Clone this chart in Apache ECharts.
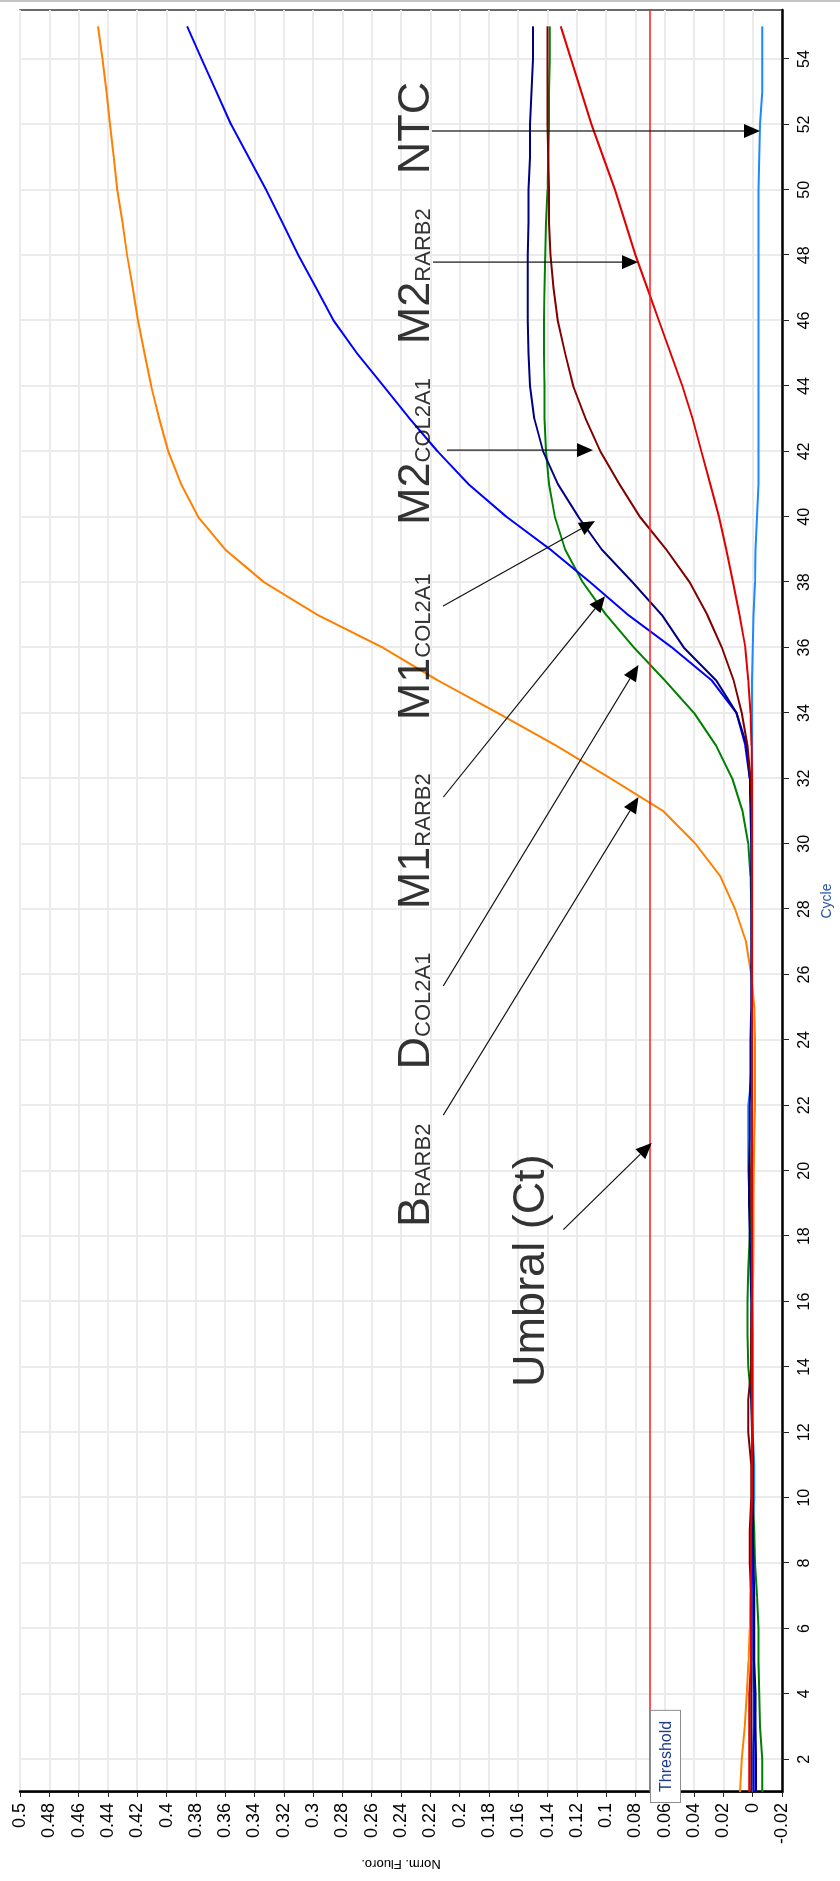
<!DOCTYPE html>
<html>
<head>
<meta charset="utf-8">
<title>Norm. Fluoro. / Cycle</title>
<script src="https://cdn.jsdelivr.net/npm/echarts@6/dist/echarts.min.js"></script>
<style>
html, body { margin: 0; padding: 0; background: #fff; overflow: hidden; }
#page { position: relative; width: 840px; height: 1881px; overflow: hidden; }
/* chart is drawn landscape and turned a quarter turn to the left */
#main {
    position: absolute; left: 0; top: 0;
    width: 1881px; height: 840px;
    transform-origin: 0 0;
    transform: translateY(1881px) rotate(-90deg);
}
#edge { position: absolute; left: 0; top: 0; width: 840px; height: 2px; background: #c4c4c4; }
</style>
</head>
<body>
<div id="page"><div id="main"></div><div id="edge"></div></div>
<script>
var cycles = [1, 2, 3, 4, 5, 6, 7, 8, 9, 10, 11, 12, 13, 14, 15, 16, 17, 18, 19, 20,
    21, 22, 23, 24, 25, 26, 27, 28, 29, 30, 31, 32, 33, 34, 35, 36, 37, 38, 39, 40,
    41, 42, 43, 44, 45, 46, 47, 48, 49, 50, 51, 52, 53, 54, 55];
var cycleTicks = [2, 4, 6, 8, 10, 12, 14, 16, 18, 20, 22, 24, 26, 28, 30, 32, 34, 36, 38, 40,
    42, 44, 46, 48, 50, 52, 54];

var bRarb2 = [0.0087, 0.0074, 0.0055, 0.0041, 0.0028, 0.0020, 0.0016, 0.0010, 0.0007, 0.0003,
    0.0000, 0.0000, 0.0000, 0.0000, 0.0000, 0.0000, -0.0003, -0.0005, -0.0005, -0.0008,
    -0.0010, -0.0015, -0.0015, -0.0015, -0.0010, 0.0010, 0.0045, 0.0120, 0.0220, 0.0390,
    0.0610, 0.0970, 0.1340, 0.1740, 0.2150, 0.2525, 0.2970, 0.3335, 0.3600, 0.3785,
    0.3900, 0.3988, 0.4050, 0.4105, 0.4150, 0.4195, 0.4230, 0.4269, 0.4300, 0.4336,
    0.4360, 0.4386, 0.4410, 0.4437, 0.4467];
var dCol2a1 = [-0.0065, -0.0065, -0.0050, -0.0045, -0.0040, -0.0040, -0.0030, -0.0015, -0.0010, 0.0000,
    0.0000, 0.0000, 0.0010, 0.0030, 0.0035, 0.0035, 0.0030, 0.0020, 0.0010, 0.0010,
    0.0005, 0.0005, 0.0005, 0.0005, 0.0005, 0.0005, 0.0005, 0.0008, 0.0015, 0.0030,
    0.0070, 0.0140, 0.0250, 0.0400, 0.0600, 0.0810, 0.1000, 0.1160, 0.1280, 0.1350,
    0.1390, 0.1410, 0.1420, 0.1420, 0.1425, 0.1425, 0.1420, 0.1415, 0.1410, 0.1400,
    0.1395, 0.1390, 0.1390, 0.1385, 0.1385];
var m1Rarb2 = [-0.0008, -0.0005, -0.0010, -0.0010, -0.0008, -0.0005, -0.0005, 0.0000, 0.0000, 0.0000,
    0.0000, 0.0005, 0.0005, 0.0005, 0.0005, 0.0005, 0.0005, 0.0005, 0.0005, 0.0005,
    0.0005, 0.0005, 0.0005, 0.0005, 0.0005, 0.0005, 0.0005, 0.0005, 0.0005, 0.0008,
    0.0010, 0.0020, 0.0050, 0.0110, 0.0280, 0.0550, 0.0850, 0.1110, 0.1380, 0.1680,
    0.1940, 0.2150, 0.2340, 0.2520, 0.2700, 0.2860, 0.2980, 0.3100, 0.3210, 0.3320,
    0.3440, 0.3560, 0.3660, 0.3760, 0.3860];
var m1Col2a1 = [-0.0023, -0.0023, -0.0020, -0.0020, -0.0010, -0.0010, -0.0010, -0.0005, 0.0000, 0.0000,
    0.0000, 0.0005, 0.0010, 0.0010, 0.0010, 0.0010, 0.0015, 0.0020, 0.0025, 0.0025,
    0.0020, 0.0020, 0.0015, 0.0015, 0.0010, 0.0010, 0.0010, 0.0010, 0.0010, 0.0010,
    0.0015, 0.0020, 0.0040, 0.0110, 0.0250, 0.0470, 0.0620, 0.0820, 0.1030, 0.1190,
    0.1330, 0.1430, 0.1490, 0.1520, 0.1530, 0.1535, 0.1535, 0.1535, 0.1530, 0.1530,
    0.1520, 0.1520, 0.1510, 0.1500, 0.1500];
var m2Col2a1 = [0.0010, 0.0010, 0.0010, 0.0010, 0.0010, 0.0010, 0.0010, 0.0020, 0.0020, 0.0010,
    0.0010, 0.0030, 0.0030, 0.0010, 0.0010, 0.0005, 0.0005, 0.0005, 0.0010, 0.0010,
    0.0005, 0.0005, 0.0005, 0.0005, 0.0005, 0.0005, 0.0005, 0.0005, 0.0005, 0.0005,
    0.0005, 0.0015, 0.0035, 0.0075, 0.0130, 0.0210, 0.0310, 0.0430, 0.0590, 0.0770,
    0.0910, 0.1040, 0.1140, 0.1225, 0.1280, 0.1330, 0.1360, 0.1380, 0.1390, 0.1390,
    0.1395, 0.1400, 0.1400, 0.1400, 0.1400];
var m2Rarb2 = [0.0023, 0.0023, 0.0023, 0.0023, 0.0011, 0.0011, 0.0011, 0.0011, 0.0011, 0.0005,
    0.0005, 0.0005, 0.0005, 0.0005, 0.0005, 0.0005, 0.0005, 0.0005, 0.0005, 0.0005,
    0.0005, 0.0005, 0.0005, 0.0005, 0.0005, 0.0005, 0.0005, 0.0005, 0.0005, 0.0005,
    0.0005, 0.0005, 0.0008, 0.0015, 0.0030, 0.0050, 0.0090, 0.0135, 0.0180, 0.0230,
    0.0290, 0.0350, 0.0410, 0.0480, 0.0560, 0.0640, 0.0720, 0.0800, 0.0870, 0.0940,
    0.1020, 0.1100, 0.1170, 0.1240, 0.1310];
var ntc = [0.0000, 0.0000, -0.0005, -0.0005, 0.0000, 0.0000, 0.0000, 0.0000, 0.0000, -0.0010,
    -0.0010, 0.0000, 0.0000, 0.0000, 0.0000, 0.0005, 0.0005, 0.0010, 0.0020, 0.0030,
    0.0030, 0.0030, 0.0005, 0.0005, 0.0005, 0.0005, 0.0005, 0.0005, 0.0005, 0.0005,
    0.0005, 0.0005, 0.0005, 0.0005, 0.0005, 0.0000, -0.0005, -0.0015, -0.0020, -0.0030,
    -0.0040, -0.0040, -0.0040, -0.0040, -0.0040, -0.0040, -0.0040, -0.0040, -0.0040, -0.0040,
    -0.0045, -0.0050, -0.0065, -0.0065, -0.0065];

var threshold = 0.0703;

// annotation texts, anchored at [cycle, value] (text start, bottom)
var noteMain = ['NTC', 'M2', 'M2', 'M1', 'M1', 'D', 'B', 'Umbral (Ct)'];
var noteSub = ['', 'RARB2', 'COL2A1', 'COL2A1', 'RARB2', 'COL2A1', 'RARB2', ''];
var noteCycle = [50.48, 45.28, 39.75, 33.78, 28.0, 23.1, 18.28, 13.39];
var noteValue = [0.214, 0.214, 0.214, 0.214, 0.214, 0.214, 0.214, 0.1356];
// arrows: [cycle, value] from -> to
var arrowFrom = [[51.8, 0.2188], [47.79, 0.2181], [42.04, 0.2086], [37.27, 0.2113],
    [31.43, 0.2111], [25.65, 0.2111], [21.7, 0.2111], [18.2, 0.1292]];
var arrowTo = [[51.8, -0.005], [47.79, 0.0783], [42.04, 0.109], [39.87, 0.1076],
    [37.57, 0.1008], [35.47, 0.078], [31.43, 0.078], [20.85, 0.0689]];

var FONT = '"Liberation Sans", Arial, sans-serif';

function pairs(vals) {
    var out = [];
    for (var i = 0; i < cycles.length; i++) out.push([cycles[i], vals[i]]);
    return out;
}

function curve(name, color, vals) {
    return {
        name: name, type: 'line', data: pairs(vals),
        showSymbol: false, symbol: 'none',
        lineStyle: { color: color, width: 2 },
        itemStyle: { color: color },
        emphasis: { disabled: true },
        z: 3
    };
}

function renderArrow(params, api) {
    var a = api.coord([api.value(0), api.value(1)]);
    var b = api.coord([api.value(2), api.value(3)]);
    var dx = b[0] - a[0], dy = b[1] - a[1];
    var len = Math.sqrt(dx * dx + dy * dy);
    var ux = dx / len, uy = dy / len;
    var L = 16, W = 7;
    var bx = b[0] - ux * L, by = b[1] - uy * L;
    return {
        type: 'group',
        children: [
            { type: 'line', shape: { x1: a[0], y1: a[1], x2: bx, y2: by },
              style: { stroke: '#111', lineWidth: 1.2 } },
            { type: 'polygon',
              shape: { points: [[b[0], b[1]], [bx - uy * W, by + ux * W], [bx + uy * W, by - ux * W]] },
              style: { fill: '#000' } }
        ]
    };
}

var chart = echarts.init(document.getElementById('main'));

var ntcSeries = curve('NTC', '#1e88ff', ntc);
ntcSeries.markLine = {
    silent: true,
    animation: false,
    symbol: ['none', 'none'],
    lineStyle: { color: '#ff1a1a', width: 1.5, type: 'solid' },
    label: {
        show: true, position: 'insideStartBottom', distance: [-10, 1],
        formatter: 'Threshold', color: '#1e3c8c', fontSize: 16, fontFamily: FONT,
        backgroundColor: '#fff', borderColor: '#8c8c8c', borderWidth: 1,
        padding: [7, 10, 6, 10]
    },
    data: [{ yAxis: threshold }]
};

var option = {
    animation: false,
    backgroundColor: '#fff',
    textStyle: { fontFamily: FONT },
    grid: {
        left: 89, right: 10, top: 20, bottom: 58,
        show: true, borderColor: '#3a3a3a', borderWidth: 1.5
    },
    xAxis: {
        type: 'value', min: 1, max: 55.5,
        name: 'Cycle', nameLocation: 'middle', nameGap: 38,
        nameTextStyle: { fontSize: 14, color: '#2a56a8' },
        axisLine: { show: true, onZero: false, lineStyle: { color: '#000', width: 2.5 } },
        axisTick: { show: true, length: 7, customValues: cycleTicks, lineStyle: { color: '#222' } },
        axisLabel: { customValues: cycleTicks, margin: 15, fontSize: 16, color: '#000' },
        splitLine: { show: true, lineStyle: { color: '#ebebeb', width: 2 } }
    },
    yAxis: {
        type: 'value', min: -0.02, max: 0.5, interval: 0.02,
        name: 'Norm. Fluoro.', nameLocation: 'middle', nameGap: 65,
        nameTextStyle: { fontSize: 13, color: '#000' },
        axisLine: { show: true, onZero: false, lineStyle: { color: '#000', width: 2.5 } },
        axisTick: { show: true, length: 5, lineStyle: { color: '#222' } },
        axisLabel: { margin: 11, fontSize: 18, color: '#000' },
        splitLine: { show: true, lineStyle: { color: '#ebebeb', width: 2 } }
    },
    series: [
        curve('B RARB2', '#ff8000', bRarb2),
        ntcSeries,
        curve('D COL2A1', '#008000', dCol2a1),
        curve('M1 RARB2', '#0000ff', m1Rarb2),
        curve('M1 COL2A1', '#000080', m1Col2a1),
        curve('M2 COL2A1', '#800000', m2Col2a1),
        curve('M2 RARB2', '#e00000', m2Rarb2),
        {
            name: 'arrows', type: 'custom', silent: true, clip: false, z: 6,
            renderItem: renderArrow,
            encode: { x: [0, 2], y: [1, 3] },
            data: arrowFrom.map(function (f, i) { return [f[0], f[1], arrowTo[i][0], arrowTo[i][1]]; })
        },
        {
            name: 'notes', type: 'scatter', silent: true, symbolSize: 0, z: 7,
            emphasis: { disabled: true },
            itemStyle: { color: 'transparent' },
            data: noteCycle.map(function (c, i) {
                return { value: [c, noteValue[i]], main: noteMain[i], sub: noteSub[i] };
            }),
            label: {
                show: true, position: [0, 0], align: 'left', verticalAlign: 'bottom',
                formatter: function (p) {
                    return '{m|' + p.data.main + '}' + (p.data.sub ? '{s|' + p.data.sub + '}' : '');
                },
                rich: {
                    m: { fontSize: 45, color: '#000', verticalAlign: 'bottom', fontFamily: FONT },
                    s: { fontSize: 22, color: '#000', verticalAlign: 'bottom', fontFamily: FONT,
                         padding: [0, 0, 4, 0] }
                }
            }
        }
    ]
};
chart.setOption(option);
</script>
</body>
</html>
